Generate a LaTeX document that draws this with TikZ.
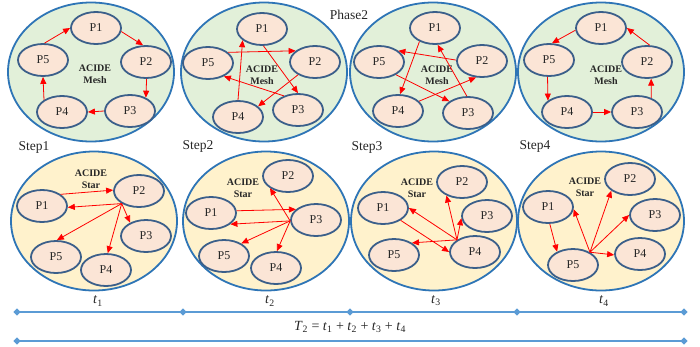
\documentclass[tikz,border=0pt]{standalone}
\usepackage{fontspec}
\setmainfont{Liberation Serif}
\usetikzlibrary{arrows.meta,shapes.geometric}
\definecolor{ringblue}{HTML}{2E75B6}
\definecolor{meshgreen}{HTML}{E2F0D9}
\definecolor{staryellow}{HTML}{FFF2CC}
\definecolor{procfill}{HTML}{FBE5D6}
\definecolor{procedge}{HTML}{3B5F8A}
\definecolor{tlblue}{HTML}{5B9BD5}
\begin{document}
\begin{tikzpicture}[x=1pt,y=-1pt,
  panel/.style={ellipse, draw=ringblue, line width=1.8pt, minimum width=166pt, minimum height=139pt, inner sep=0pt},
  mesh/.style={panel, fill=meshgreen},
  star/.style={panel, fill=staryellow},
  proc/.style={ellipse, draw=procedge, line width=1.8pt, fill=procfill, minimum width=50pt, minimum height=32pt, inner sep=0pt, font=\fontsize{12}{14}\selectfont, text=black!85},
  lbl/.style={font=\fontsize{10}{12}\selectfont\bfseries, align=center, text=black!85},
  arr/.style={draw=red, line width=0.8pt, -{Triangle[length=7pt,width=6pt]}},
  steplbl/.style={font=\fontsize{13.5}{16}\selectfont, text=black!85},
  tl/.style={draw=tlblue, line width=1.5pt},
  dia/.style={diamond, fill=tlblue, inner sep=0pt, minimum size=7.5pt},
  tlab/.style={font=\fontsize{14}{16}\selectfont, text=black!85}
]
\useasboundingbox (0,0) rectangle (700,346);

% ---------- panels ----------
\node[mesh] (c1) at (91,72) {};
\node[mesh] (c2) at (264,72) {};
\node[mesh] (c3) at (433,72) {};
\node[mesh] (c4) at (601,72) {};
\node[star] (c5) at (94,221) {};
\node[star] (c6) at (266,221) {};
\node[star] (c7) at (434,221) {};
\node[star] (c8) at (601,221) {};

% ---------- labels ----------
\node[steplbl] (ph) at (349,15) {Phase2};
\node[steplbl] (s1) at (34,147) {Step1};
\node[steplbl] (s2) at (198,146) {Step2};
\node[steplbl] (s3) at (367,147) {Step3};
\node[steplbl] (s4) at (535,146) {Step4};

% ---------- top panel 1 ----------
\node[lbl] (m1) at (95,74) {ACIDE\\Mesh};
\node[proc] (a1) at (96,28) {P1};
\node[proc] (a2) at (146,62) {P2};
\node[proc] (a3) at (130,111) {P3};
\node[proc] (a4) at (62,112) {P4};
\node[proc] (a5) at (43,60) {P5};
\draw[arr] (a1.-8) -- (a2.100);
\draw[arr] (a2.-88) -- (a3.40);
\draw[arr] (a3.180) -- (a4.0);
\draw[arr] (a4.146) -- (a5.-90);
\draw[arr] (a5.85) -- (a1.180);

% ---------- top panel 2 ----------
\node[lbl] (m2) at (262,75) {ACIDE\\Mesh};
\node[proc] (b1) at (262,29) {P1};
\node[proc] (b2) at (315,62) {P2};
\node[proc] (b3) at (298,110) {P3};
\node[proc] (b4) at (238,117) {P4};
\node[proc] (b5) at (208,63) {P5};
\draw[arr] (b1.-85) -- (b3.90);
\draw[arr] (b3.135) -- (b5.-40);
\draw[arr] (b5.28) -- (b2.150);
\draw[arr] (b2.217) -- (b4.28);
\draw[arr] (b4.90) -- (b1.210);

% ---------- top panel 3 ----------
\node[lbl] (m3) at (437,75) {ACIDE\\Mesh};
\node[proc] (e1) at (435,28) {P1};
\node[proc] (e2) at (482,61) {P2};
\node[proc] (e3) at (468,113) {P3};
\node[proc] (e4) at (398,111) {P4};
\node[proc] (e5) at (379,62) {P5};
\draw[arr] (e1.221) -- (e4.83);
\draw[arr] (e2.178) -- (e5.30);
\draw[arr] (e3.94) -- (e1.-81);
\draw[arr] (e4.25) -- (e2.-110);
\draw[arr] (e5.-37) -- (e3.148);

% ---------- top panel 4 ----------
\node[lbl] (m4) at (606,75) {ACIDE\\Mesh};
\node[proc] (f1) at (601,28) {P1};
\node[proc] (f2) at (647,62) {P2};
\node[proc] (f3) at (637,112) {P3};
\node[proc] (f4) at (567,112) {P4};
\node[proc] (f5) at (549,60) {P5};
\draw[arr] (f1.185) -- (f5.80);
\draw[arr] (f5.-95) -- (f4.149);
\draw[arr] (f4.0) -- (f3.180);
\draw[arr] (f3.45) -- (f2.-76);
\draw[arr] (f2.81) -- (f1.0);

% ---------- bottom panel 1 ----------
\node[lbl] (r1) at (91,179) {ACIDE\\Star};
\node[proc] (g1) at (42,206) {P1};
\node[proc] (g2) at (139,191) {P2};
\node[proc] (g3) at (146,236) {P3};
\node[proc] (g4) at (106,270) {P4};
\node[proc] (g5) at (56,257) {P5};
\coordinate (gs) at (g2.216);
\draw[arr] (g1.32) -- (g2.178);
\draw[arr] (gs) -- (g1.-3);
\draw[arr] (gs) -- (g3.140);
\draw[arr] (gs) -- (g4.84);
\draw[arr] (gs) -- (g5.87);

% ---------- bottom panel 2 ----------
\node[lbl] (r2) at (243,188) {ACIDE\\Star};
\node[proc] (h1) at (211,213) {P1};
\node[proc] (h2) at (288,176) {P2};
\node[proc] (h3) at (316,220) {P3};
\node[proc] (h4) at (276,268) {P4};
\node[proc] (h5) at (224,256) {P5};
\coordinate (hs) at (h3.182);
\draw[arr] (h1.5) -- (h3.152);
\draw[arr] (hs) -- (h1.-30);
\draw[arr] (hs) -- (h2.214);
\draw[arr] (hs) -- (h4.87);
\draw[arr] (hs) -- (h5.36);

% ---------- bottom panel 3 ----------
\node[lbl] (r3) at (417,188) {ACIDE\\Star};
\node[proc] (k1) at (383,208) {P1};
\node[proc] (k2) at (462,182) {P2};
\node[proc] (k3) at (487,216) {P3};
\node[proc] (k4) at (475,252) {P4};
\node[proc] (k5) at (394,255) {P5};
\coordinate (ks) at (k4.146);
\draw[arr] (k1.-35) -- (k4.180);
\draw[arr] (ks) -- (k1.0);
\draw[arr] (ks) -- (k2.221);
\draw[arr] (ks) -- (k3.185);
\draw[arr] (ks) -- (k5.34);

% ---------- bottom panel 4 ----------
\node[lbl] (r4) at (585,187) {ACIDE\\Star};
\node[proc] (n1) at (548,207) {P1};
\node[proc] (n2) at (630,179) {P2};
\node[proc] (n3) at (655,215) {P3};
\node[proc] (n4) at (640,254) {P4};
\node[proc] (n5) at (573,265) {P5};
\coordinate (ns) at (n5.37);
\draw[arr] (n1.-84) -- (n5.140);
\draw[arr] (ns) -- (n1.-5);
\draw[arr] (ns) -- (n2.212);
\draw[arr] (ns) -- (n3.180);
\draw[arr] (ns) -- (n4.182);

% ---------- timeline ----------
\coordinate (d0) at (17,312);
\coordinate (d1) at (183,312);
\coordinate (d2) at (350,312);
\coordinate (d3) at (517,312);
\coordinate (d4) at (684,312);
\coordinate (e0) at (17,341);
\coordinate (e4) at (684,341);
\draw[tl] (d0) -- (d1) -- (d2) -- (d3) -- (d4);
\draw[tl] (e0) -- (e4);
\node[dia] (q0) at (d0) {};
\node[dia] (q1) at (d1) {};
\node[dia] (q2) at (d2) {};
\node[dia] (q3) at (d3) {};
\node[dia] (q4) at (d4) {};
\node[dia] (q5) at (e0) {};
\node[dia] (q6) at (e4) {};
\node[tlab] (t1) at (98,301) {\textit{t}\textsubscript{1}};
\node[tlab] (t2) at (270,301) {\textit{t}\textsubscript{2}};
\node[tlab] (t3) at (436,301) {\textit{t}\textsubscript{3}};
\node[tlab] (t4) at (604,301) {\textit{t}\textsubscript{4}};
\node[tlab] (tt) at (350,327) {\textit{T}\textsubscript{2} = \textit{t}\textsubscript{1} + \textit{t}\textsubscript{2} + \textit{t}\textsubscript{3} + \textit{t}\textsubscript{4}};
\end{tikzpicture}
\end{document}
